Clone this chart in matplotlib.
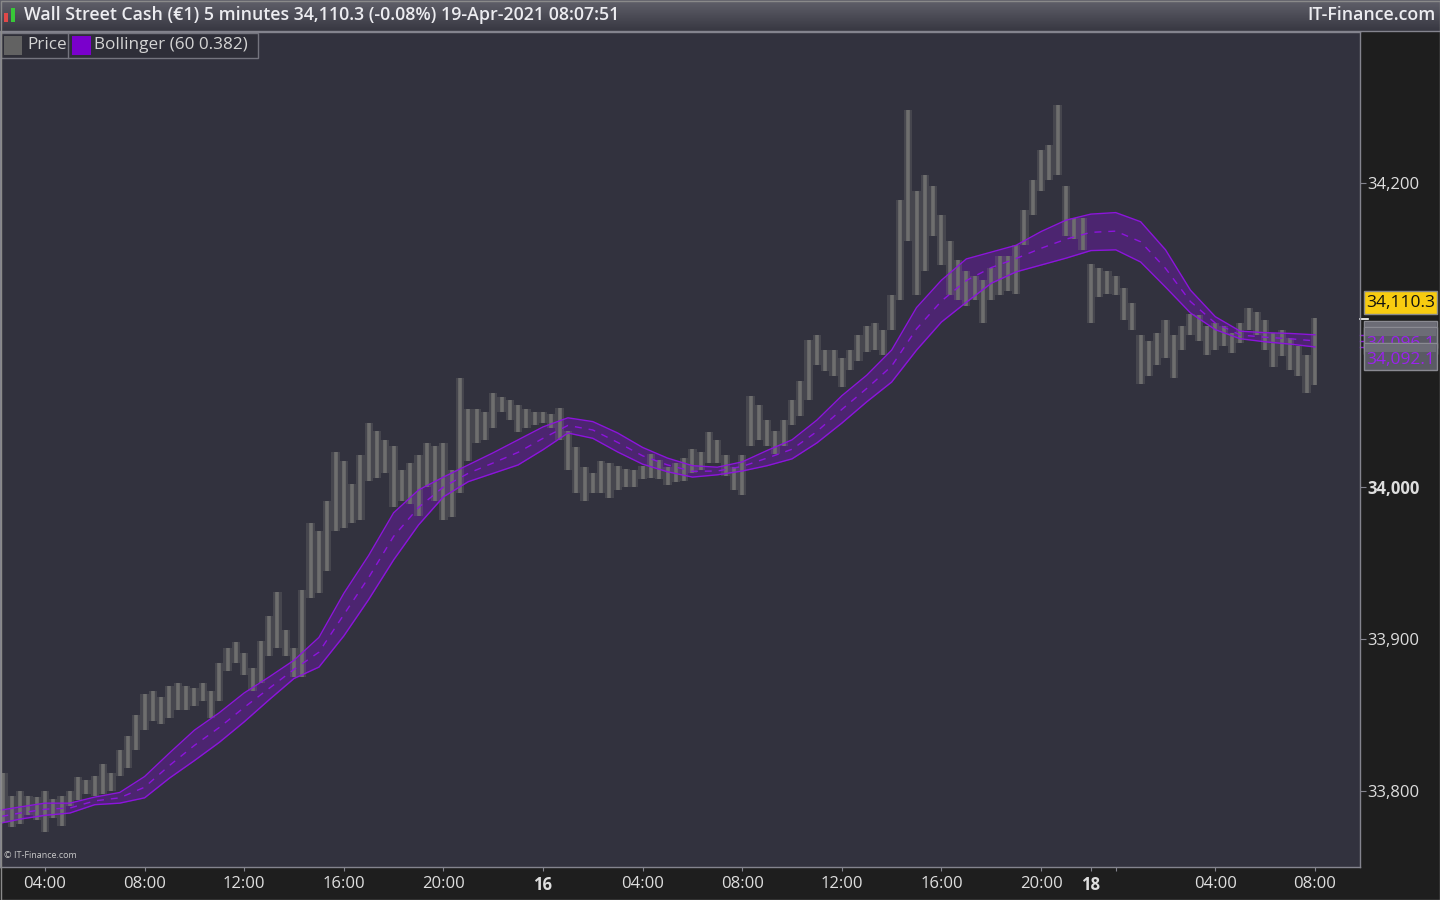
import numpy as np
import matplotlib.pyplot as plt
import matplotlib.transforms as mtransforms
from matplotlib.patches import Rectangle

plt.rcParams['font.family'] = ['Open Sans', 'DejaVu Sans']

# 20-minute high/low ranges, Wall Street Cash, 15-19 Apr 2021 (session hours from 04:00 on the 15th)
price_high = [
    33812, 33797, 33800, 33797, 33796, 33800, 33795, 33797, 33800, 33809,
    33807, 33810, 33818, 33812, 33827, 33836, 33850, 33864, 33866, 33862,
    33869, 33871, 33869, 33868, 33871, 33866, 33884, 33894, 33898, 33891,
    33881, 33899, 33915, 33931, 33906, 33894, 33932, 33976, 33971, 33991,
    34023, 34017, 34002, 34021, 34042, 34037, 34031, 34027, 34011, 34016,
    34021, 34029, 34027, 34029, 34011, 34072, 34051, 34051, 34049, 34062,
    34059, 34057, 34054, 34051, 34049, 34049, 34048, 34052, 34037, 34026,
    34013, 34009, 34017, 34016, 34014, 34012, 34011, 34014, 34022, 34018,
    34013, 34016, 34019, 34025, 34023, 34036, 34031, 34021, 34013, 34021,
    34060, 34054, 34044, 34037, 34044, 34057, 34070, 34097, 34100, 34090,
    34090, 34085, 34090, 34100, 34106, 34108, 34103, 34126, 34189, 34248,
    34195, 34205, 34198, 34179, 34162, 34149, 34142, 34139, 34136, 34144,
    34152, 34152, 34159, 34182, 34202, 34222, 34225, 34251, 34198, 34177,
    34177, 34147, 34144, 34142, 34139, 34131, 34121, 34100, 34096, 34101,
    34110, 34100, 34106, 34114, 34113, 34106, 34108, 34106, 34101, 34108,
    34118, 34115, 34110, 34101, 34103, 34098, 34093, 34087, 34111,
]
price_low = [
    33779, 33776, 33778, 33784, 33781, 33773, 33782, 33777, 33790, 33794,
    33798, 33797, 33798, 33800, 33810, 33815, 33827, 33840, 33846, 33844,
    33848, 33853, 33853, 33856, 33859, 33848, 33859, 33879, 33884, 33876,
    33866, 33871, 33889, 33894, 33889, 33875, 33875, 33927, 33930, 33945,
    33971, 33973, 33976, 33978, 34004, 34006, 34009, 33987, 33991, 33989,
    33981, 34000, 33991, 33978, 33980, 33996, 34017, 34029, 34031, 34039,
    34049, 34044, 34036, 34039, 34041, 34042, 34039, 34031, 34011, 33996,
    33991, 33996, 33996, 33993, 33998, 34000, 34000, 34005, 34006, 34005,
    34001, 34003, 34004, 34009, 34011, 34016, 34016, 34007, 33998, 33995,
    34027, 34031, 34027, 34022, 34027, 34041, 34047, 34057, 34080, 34076,
    34073, 34066, 34077, 34083, 34089, 34090, 34087, 34103, 34123, 34162,
    34126, 34142, 34165, 34146, 34126, 34123, 34119, 34123, 34108, 34123,
    34126, 34129, 34127, 34159, 34179, 34195, 34202, 34205, 34165, 34163,
    34156, 34108, 34125, 34127, 34126, 34110, 34103, 34068, 34073, 34080,
    34085, 34072, 34090, 34100, 34096, 34087, 34090, 34093, 34088, 34095,
    34103, 34100, 34090, 34079, 34086, 34077, 34073, 34062, 34067,
]
bar_hours = np.arange(len(price_high)) / 3 - 5 / 3

# Bollinger (60, 0.382), read hourly
band_hours = [-1.75] + list(range(-1, 52))
band_upper = [
    33787.5, 33789.5, 33792, 33792, 33796, 33799, 33809.5, 33825, 33840, 33851.5,
    33864.5, 33875, 33886, 33901, 33930, 33955, 33983, 33998, 34006.5, 34014.5,
    34022.5, 34031, 34039.5, 34045.5, 34043, 34035.5, 34026, 34019, 34014, 34013,
    34016.5, 34024, 34031, 34044, 34060, 34073.5, 34090, 34118, 34136, 34150,
    34154.5, 34159, 34168, 34175.5, 34179.5, 34180.5, 34174.5, 34156, 34129.5, 34112,
    34102.5, 34101.5, 34101, 34100.1,
]
band_lower = [
    33779, 33781.5, 33784, 33785.5, 33791, 33792, 33795.5, 33808.5, 33820, 33832,
    33845.5, 33860, 33874, 33881.5, 33902, 33926, 33952, 33975, 33993.5, 34003.5,
    34009, 34014.5, 34024.5, 34035.5, 34032, 34023, 34015, 34010, 34006.5, 34008,
    34010.5, 34014, 34018.5, 34029, 34042, 34056, 34069, 34090, 34108.5, 34121.5,
    34134, 34141.5, 34146, 34150.5, 34155.5, 34156, 34148, 34131.5, 34114.5, 34103.5,
    34097.5, 34095.5, 34094, 34092.1,
]
band_mid = [
    33783.3, 33785.5, 33788, 33788.8, 33793.5, 33795.5, 33802.5, 33816.8, 33830, 33841.8,
    33855, 33867.5, 33880, 33891.3, 33916, 33940.5, 33967.5, 33986.5, 34000, 34009,
    34015.8, 34022.8, 34032, 34040.5, 34037.5, 34029.3, 34020.5, 34014.5, 34010.3, 34010.5,
    34013.5, 34019, 34024.8, 34036.5, 34051, 34064.8, 34079.5, 34104, 34122.3, 34135.8,
    34144.3, 34150.3, 34157, 34163, 34167.5, 34168.3, 34161.3, 34143.8, 34122, 34107.8,
    34100, 34098.5, 34097.5, 34096.1,
]

last_price = 34110.3
x_tick_hours = [0, 4, 8, 12, 16, 20, 24, 28, 32, 36, 40, 42, 43, 47, 51]
x_tick_labels = ['04:00', '08:00', '12:00', '16:00', '20:00', '16', '04:00', '08:00',
                 '12:00', '16:00', '20:00', '18', '', '04:00', '08:00']
y_ticks = [33800, 33900, 34000, 34100, 34200]
y_tick_labels = ['33,800', '33,900', '34,000', '', '34,200']

BG = '#32323e'
AXIS_BG = '#1e1e1e'
PURPLE = '#8c14dc'
GRAY_LINE = '#84848e'

fig = plt.figure(figsize=(14.4, 9), dpi=100, facecolor=AXIS_BG)

ax = fig.add_axes([0, 33 / 900, 1360 / 1440, 835 / 900])
ax.set_facecolor(BG)
ax.fill_between(band_hours, band_lower, band_upper, color='#7a10c8', alpha=0.37, lw=0, zorder=1)
# faint body of the price ribbon, then the bars themselves
ax.fill_between(bar_hours, price_low, price_high, step='mid', color='#6e6e6e', alpha=0.35, lw=0, zorder=2)
ax.vlines(bar_hours, price_low, price_high, color='#6e6e6e', lw=2.6, zorder=2)
ax.plot(band_hours, band_upper, color=PURPLE, lw=1.0, zorder=3)
ax.plot(band_hours, band_lower, color=PURPLE, lw=1.0, zorder=3)
ax.plot(band_hours, band_mid, color=PURPLE, lw=1.0, dashes=(5, 5), zorder=3)

ax.set_xlim(-1.807, 52.81)
ax.set_ylim(33750, 34299.3)
for sp in ax.spines.values():
    sp.set_color(GRAY_LINE)
    sp.set_linewidth(1)

ax.set_xticks(x_tick_hours)
ax.set_xticklabels(x_tick_labels)
ax.yaxis.tick_right()
ax.set_yticks(y_ticks)
ax.set_yticklabels(y_tick_labels)
ax.tick_params(axis='x', colors=GRAY_LINE, labelcolor='#dedede', labelsize=12, length=3, pad=3.5)
ax.tick_params(axis='y', colors=GRAY_LINE, labelcolor='#dedede', labelsize=12, length=4, pad=1)
for lab in ax.get_xticklabels():
    if lab.get_text() in ('16', '18'):
        lab.set_fontweight('bold')
for lab in ax.get_yticklabels():
    if lab.get_text() == '34,000':
        lab.set_fontweight('bold')

# markers on the price axis for last price and band values
edge = mtransforms.blended_transform_factory(ax.transAxes, ax.transData)
ax.plot([1.0, 1.006], [last_price] * 2, color='white', lw=1.2, transform=edge, clip_on=False)
for v in (band_upper[-1], band_mid[-1], band_lower[-1]):
    ax.plot([1.0, 1.006], [v, v], color=PURPLE, lw=1.0, transform=edge, clip_on=False)

ax.text(0.003, 0.008, '\u00a9 IT-Finance.com', transform=ax.transAxes, fontsize=6.5,
        color='#c8c8c8', va='bottom', ha='left')

# overlay in pixel units for header, legend and value boxes
ov = fig.add_axes([0, 0, 1, 1], zorder=10)
ov.set_xlim(0, 1440)
ov.set_ylim(900, 0)
ov.axis('off')
ov.patch.set_alpha(0)

grad = np.linspace(0, 1, 32)[:, None, None]
top_c = np.array([0x60, 0x60, 0x6a]) / 255
bot_c = np.array([0x38, 0x38, 0x42]) / 255
ov.imshow(top_c * (1 - grad) + bot_c * grad, extent=(0, 1440, 31, 0), aspect='auto', zorder=1)
ov.plot([0, 1440], [31, 31], color=GRAY_LINE, lw=1, zorder=2)
ov.set_xlim(0, 1440)
ov.set_ylim(900, 0)

ov.add_patch(Rectangle((4, 13), 4, 9, fc='#e04848', ec='none', zorder=3))
ov.add_patch(Rectangle((11, 8), 4, 14, fc='#38c838', ec='none', zorder=3))
ov.text(24, 15, 'Wall Street Cash (\u20ac1) 5 minutes 34,110.3 (-0.08%) 19-Apr-2021 08:07:51',
        fontsize=12.8, fontweight='semibold', color='#ececf0', va='center', ha='left', zorder=3)
ov.text(1436, 15, 'IT-Finance.com', fontsize=12.8, fontweight='semibold',
        color='#ececf0', va='center', ha='right', zorder=3)

# legend
ov.add_patch(Rectangle((1, 33), 257, 25, fc='#2e2e38', ec='#74747e', lw=1, zorder=3))
ov.plot([68, 68], [33, 58], color='#74747e', lw=1, zorder=4)
ov.add_patch(Rectangle((4, 36), 18, 19, fc='#626262', ec='none', zorder=4))
ov.text(27, 45, 'Price', fontsize=12.3, color='#d4d4d4', va='center', ha='left', zorder=4)
ov.add_patch(Rectangle((72, 36), 19, 19, fc='#7a00cc', ec='none', zorder=4))
ov.text(94, 45, 'Bollinger (60 0.382)', fontsize=12.3, color='#d4d4d4', va='center', ha='left', zorder=4)

# value boxes on the right scale (stacked, the later ones cover the earlier ones)
ov.add_patch(Rectangle((1364, 291), 73, 23, fc='#f8cc10', ec='#8a8a8a', lw=1, zorder=5))
ov.text(1400.5, 303, f'{last_price:,.1f}', fontsize=12.5, color='#111111', va='center', ha='center', zorder=6)
box_tops = [321, 327, 343]
for i, (top, v) in enumerate(zip(box_tops, (band_upper[-1], band_mid[-1], band_lower[-1]))):
    z = 5 + i * 0.1
    box = Rectangle((1364, top), 73, 27, fc='#5a5a64', ec='#8a8a92', lw=1, zorder=z)
    ov.add_patch(box)
    ov.add_patch(Rectangle((1365, top + 1), 71, 8, fc='#6c6c76', ec='none', zorder=z))
    if i > 0:
        t = ov.text(1400.5, top + 17, f'{v:,.1f}', fontsize=12.5, color='#9a22ee', va='center',
                    ha='center', zorder=z + 0.01)
        if i == 1:
            t.set_clip_path(Rectangle((1364, top), 73, box_tops[2] - top, transform=ov.transData))

ov.add_patch(Rectangle((0.5, 0.5), 1439, 899, fc='none', ec='#8a8a8a', lw=1, zorder=7))

fig.savefig('out.png', dpi=100, facecolor=fig.get_facecolor())
